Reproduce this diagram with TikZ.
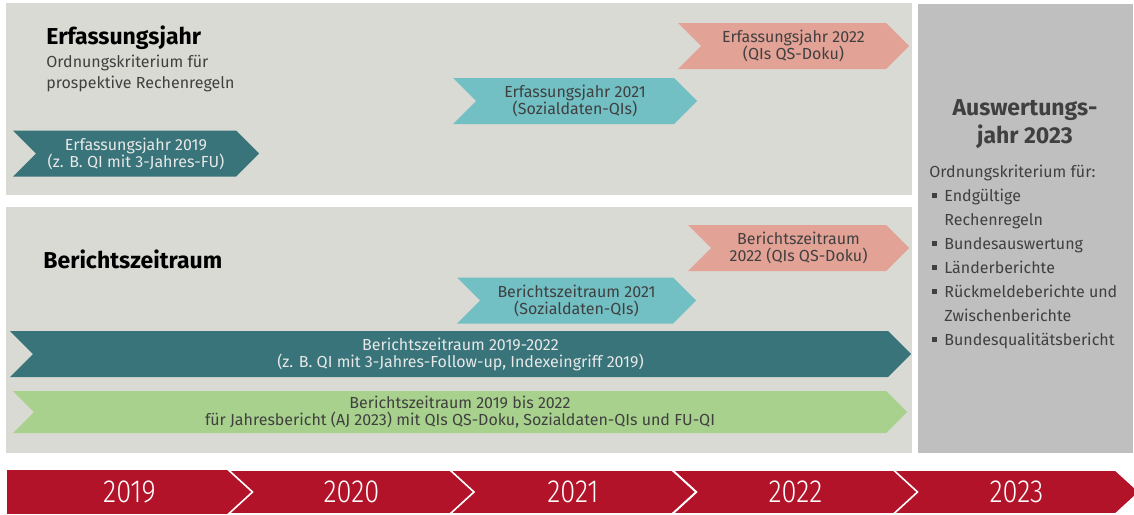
\documentclass[tikz,border=0pt]{standalone}
\usepackage{xcolor}
\usepackage{tikz}
\usepackage{fontspec}
\setmainfont{Fira Sans}
\newfontfamily\jahrfont{Fira Sans Light}[FakeStretch=0.85]
\usetikzlibrary{shapes.symbols}
\definecolor{flaeche}{RGB}{217,218,211}
\definecolor{seite}{RGB}{191,191,191}
\definecolor{petrol}{RGB}{56,116,122}
\definecolor{tuerkis}{RGB}{114,191,196}
\definecolor{lachs}{RGB}{226,162,150}
\definecolor{gruen}{RGB}{168,209,141}
\definecolor{jahrrot}{RGB}{179,19,41}
\definecolor{schrift}{RGB}{64,64,64}
\definecolor{hell}{RGB}{232,232,232}

\newcommand{\pkt}{\makebox[7.5pt][l]{\hspace{1.5pt}\raisebox{1.3pt}{\rule{2.5pt}{2.5pt}}}}
\newcommand{\einr}{\hspace*{7.5pt}}

\begin{document}
\begin{tikzpicture}[x=0.5pt, y=-0.5pt, every node/.style={inner sep=0pt},
		pfeil/.style={signal, signal from=west, signal to=east, signal pointer angle=90, minimum height=23pt, align=center, text=schrift, font=\fontsize{8}{8.5}\selectfont},
		jahr/.style={signal, signal from=west, signal to=east, signal pointer angle=85, minimum height=22pt, minimum width=123pt, fill=jahrrot, draw=white, line width=0.8pt, text=white, font=\jahrfont\fontsize{16}{16}\selectfont},
		titel/.style={font=\fontsize{11.5}{14}\selectfont\bfseries},
		unter/.style={align=left, text=schrift, font=\fontsize{8}{10.5}\selectfont}]
			\useasboundingbox (0,0) rectangle (1134,514);
			% Flaechen
			\fill[flaeche] (6,3) rectangle (912,195);
			\fill[flaeche] (6,207) rectangle (912,453);
			\fill[seite] (918,4) rectangle (1133,453);
			% Erfassungsjahr
			\node[titel, anchor=base west] (ejtitel) at (46,44) {Erfassungsjahr};
			\node[unter, anchor=base west] (ejtext) at (46,88) {Ordnungskriterium für\\prospektive Rechenregeln};
			\node[pfeil, fill=petrol, text=hell, minimum width=123pt] (ej19) at (136,153.5) {Erfassungsjahr 2019\\(z. B. QI mit 3-Jahres-FU)};
			\node[pfeil, fill=tuerkis, minimum width=122pt] (ej21) at (575,101) {Erfassungsjahr 2021\\(Sozialdaten-QIs)};
			\node[pfeil, fill=lachs, minimum width=115.5pt] (ej22) at (793.5,46) {Erfassungsjahr 2022\\(QIs QS-Doku)};
			% Berichtszeitraum
			\node[titel, anchor=base west] (bztitel) at (43,268) {Berichtszeitraum};
			\node[pfeil, fill=lachs, minimum width=110.5pt] (bz22) at (798.5,248) {Berichtszeitraum\\2022 (QIs QS-Doku)};
			\node[pfeil, fill=tuerkis, minimum width=119.5pt] (bz21) at (576.5,300.5) {Berichtszeitraum 2021\\(Sozialdaten-QIs)};
			\node[pfeil, fill=petrol, text=hell, minimum width=450.5pt] (bz1922) at (460.5,354) {Berichtszeitraum 2019-2022\\(z. B. QI mit 3-Jahres-Follow-up, Indexeingriff 2019)};
			\node[pfeil, fill=gruen, minimum width=447pt, minimum height=21pt] (bzjb) at (460,412) {Berichtszeitraum 2019 bis 2022\\für Jahresbericht (AJ 2023) mit QIs QS-Doku, Sozialdaten-QIs und FU-QI};
			% Auswertungsjahr
			\node[titel, anchor=base, align=center, text=schrift] (ajtitel) at (1025,143) {Auswertungs-\\jahr 2023};
			\node[unter, anchor=base west, font=\fontsize{8}{12}\selectfont] (krit) at (929,345) {Ordnungskriterium für:\\\pkt Endgültige\\\einr Rechenregeln\\\pkt Bundesauswertung\\\pkt Länderberichte\\\pkt Rückmeldeberichte und\\\einr Zwischenberichte\\\pkt Bundesqualitätsbericht};
			% Jahre
			\node[fill=jahrrot, minimum width=122.5pt, minimum height=22pt, text=white, font=\jahrfont\fontsize{16}{16}\selectfont] (j19) at (129.5,492) {2019};
			\node[jahr] (j20) at (351.5,492) {2020};
			\node[jahr] (j21) at (573,492) {2021};
			\node[jahr] (j22) at (795.5,492) {2022};
			\node[jahr] (j23) at (1016.5,492) {2023};
		\end{tikzpicture}
\end{document}
